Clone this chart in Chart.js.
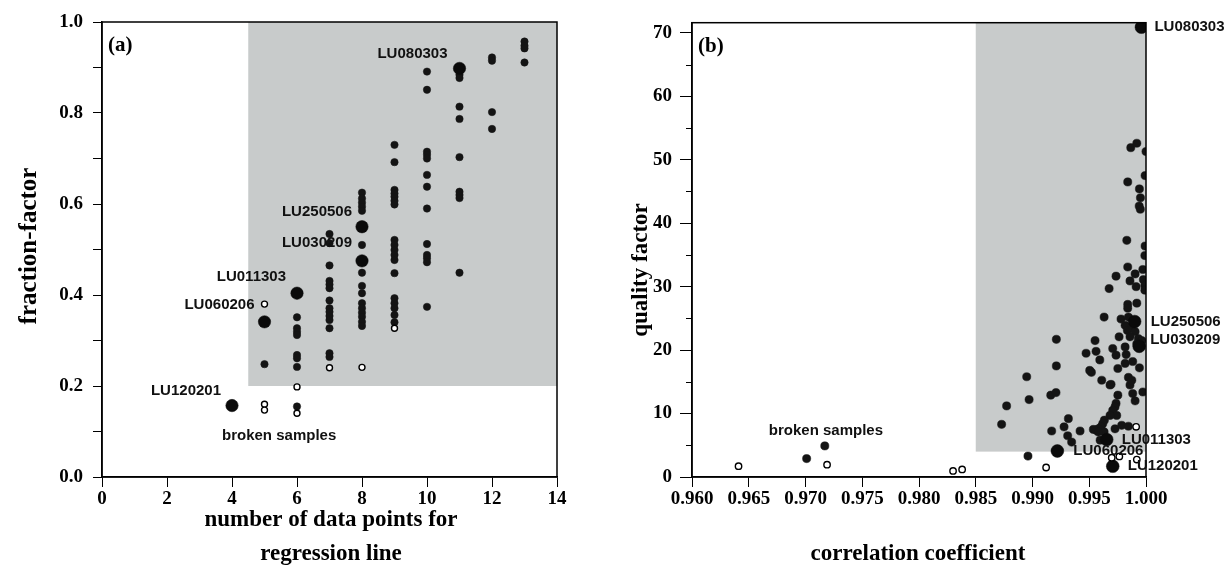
<!DOCTYPE html>
<html><head><meta charset="utf-8">
<script src="https://cdn.jsdelivr.net/npm/chart.js@4.4.1/dist/chart.umd.min.js"></script>
<style>
html,body{margin:0;padding:0;background:#fff;}
#wrap{position:relative;width:1230px;height:586px;overflow:hidden;}
canvas{position:absolute;top:0;}
#ca{left:0;} #cb{left:615px;}
</style></head><body>
<div id="wrap"><canvas id="ca" width="615" height="586"></canvas><canvas id="cb" width="615" height="586"></canvas></div>
<script>
// ---------- Panel (a): number of data points vs fraction-factor ----------
const aTicksX = [0, 2, 4, 6, 8, 10, 12, 14];
const aFilled = [
  [5,0.248],
  [6,0.351],[6,0.327],[6,0.319],[6,0.312],[6,0.268],[6,0.261],[6,0.242],[6,0.155],
  [7,0.534],[7,0.514],[7,0.465],[7,0.431],[7,0.423],[7,0.415],[7,0.388],[7,0.371],[7,0.363],[7,0.354],[7,0.345],[7,0.327],[7,0.272],[7,0.264],
  [8,0.625],[8,0.612],[8,0.603],[8,0.594],[8,0.585],[8,0.510],[8,0.449],[8,0.420],[8,0.404],[8,0.382],[8,0.371],[8,0.361],[8,0.352],[8,0.341],[8,0.332],
  [9,0.730],[9,0.692],[9,0.631],[9,0.623],[9,0.616],[9,0.607],[9,0.599],[9,0.521],[9,0.510],[9,0.499],[9,0.488],[9,0.477],[9,0.448],[9,0.393],[9,0.382],[9,0.371],[9,0.356],[9,0.340],
  [10,0.891],[10,0.851],[10,0.715],[10,0.708],[10,0.700],[10,0.664],[10,0.638],[10,0.590],[10,0.512],[10,0.488],[10,0.481],[10,0.472],[10,0.374],
  [11,0.884],[11,0.877],[11,0.814],[11,0.787],[11,0.703],[11,0.627],[11,0.620],[11,0.613],[11,0.449],
  [12,0.922],[12,0.915],[12,0.802],[12,0.765],
  [13,0.957],[13,0.948],[13,0.942],[13,0.911]
];
const aNamed = [[4,0.157],[5,0.341],[6,0.404],[8,0.475],[8,0.550],[11,0.898]];
const aNamedLabels = ['LU120201','LU060206','LU011303','LU030209','LU250506','LU080303'];
const aBroken = [[5,0.380],[5,0.160],[5,0.147],[6,0.198],[6,0.140],[7,0.240],[8,0.241],[9,0.327]];

// ---------- Panel (b): correlation coefficient vs quality factor ----------
const bFilled = [
  [0.9701,2.9],[0.9717,4.9],[0.9896,3.3],
  [0.98728,8.3],[0.98772,11.2],[0.98949,15.8],[0.9897,12.2],[0.99161,12.9],[0.99207,13.3],[0.9921,21.7],[0.9921,17.5],
  [0.99169,7.25],[0.99278,7.9],[0.99316,9.2],[0.9931,6.5],[0.99345,5.5],[0.99419,7.25],[0.9956,7.4],
  [0.99472,19.5],[0.99551,21.5],[0.9956,19.8],[0.99593,18.45],[0.99519,16.5],[0.9961,15.25],[0.99683,14.5],
  [0.99631,25.2],[0.99675,29.7],[0.99736,31.65],
  [0.99866,51.9],[0.99919,52.6],[1.0,51.3],[0.99992,47.5],[0.99839,46.5],[0.99942,45.4],[0.99951,44.0],[0.9994,42.7],[0.9995,42.2],
  [0.99831,37.3],[0.99992,36.4],[0.9999,34.9],[0.99839,33.1],[0.99972,32.7],[0.99904,32.0],[0.99859,30.9],[0.99977,31.1],
  [0.9999,30.2],[0.99913,30.0],[0.9999,29.45],[0.99839,27.2],[0.99919,27.4],[0.99839,26.6],[0.9978,24.9],[0.99845,25.2],
  [0.99904,24.7],[0.99816,23.9],[0.99875,23.7],[0.99836,23.1],[0.99904,22.9],[0.99859,22.1],[0.99933,21.8],[0.99919,21.0],
  [0.99963,21.5],[0.99763,22.1],[0.99707,20.25],[0.99816,20.5],[0.99825,19.3],[0.99736,19.2],[0.99504,16.8],[0.99752,17.1],
  [0.99816,17.9],[0.99883,18.2],[0.99942,17.2],[0.99845,15.7],[0.99692,14.6],[0.99859,14.5],[0.99875,15.25],[0.99972,13.4],
  [0.99883,13.15],[0.99752,12.9],[0.99904,12.0],[0.99736,11.6],[0.99727,11.05],[0.99707,10.5],[0.99742,9.7],[0.99683,9.7],
  [0.99633,8.95],[0.99619,8.4],[0.99604,7.9],[0.9958,7.6],[0.99536,7.5],[0.99727,7.6],[0.99786,8.15],[0.99845,8.0],
  [0.99631,7.1],[0.9958,7.1],[0.99596,5.8]
];
const bNamed = [[0.9996,70.9],[0.9990,24.5],[0.9994,20.6],[0.99654,5.9],[0.99219,4.1],[0.99707,1.7]];
const bNamedLabels = ['LU080303','LU250506','LU030209','LU011303','LU060206','LU120201'];
const bBroken = [[0.9641,1.7],[0.9719,1.95],[0.9830,0.95],[0.9838,1.2],[0.9912,1.5],[0.99913,7.9],[0.99698,3.05],[0.99765,3.25],[0.99919,2.75]];

// ---------- helpers ----------
const toXY = arr => arr.map(p => ({x: p[0], y: p[1]}));
const TICK_FONT = {family: '"Liberation Serif", "Times New Roman", serif', size: 19, weight: 'bold'};
const LBL_FONT = 'bold 15px "Liberation Sans", Arial, sans-serif';
const SHADE = '#c8cbcb';

function decor(cfg){
  return {
    id: 'decor',
    beforeDatasetsDraw(chart){
      const {ctx, scales:{x, y}} = chart;
      const x0 = x.getPixelForValue(cfg.shade[0]), x1 = x.getPixelForValue(cfg.shade[1]);
      const y0 = y.getPixelForValue(cfg.shade[2]), y1 = y.getPixelForValue(cfg.shade[3]);
      ctx.save(); ctx.fillStyle = SHADE; ctx.fillRect(x0, y1, x1 - x0, y0 - y1); ctx.restore();
    },
    afterDraw(chart){
      const {ctx, chartArea:a, scales:{x, y}} = chart;
      ctx.save();
      // frame
      ctx.strokeStyle = '#000'; ctx.lineWidth = 1.5;
      ctx.strokeRect(a.left, a.top, a.right - a.left, a.bottom - a.top);
      // minor ticks
      ctx.lineWidth = 1;
      (cfg.minorY || []).forEach(v => {
        const py = Math.round(y.getPixelForValue(v)) + 0.5;
        ctx.beginPath(); ctx.moveTo(a.left - 6, py); ctx.lineTo(a.left, py); ctx.stroke();
      });
      // point labels
      ctx.fillStyle = '#111'; ctx.font = LBL_FONT; ctx.textBaseline = 'middle';
      cfg.labels.forEach(l => {
        const px = x.getPixelForValue(l.x) + l.dx, py = y.getPixelForValue(l.y) + l.dy;
        ctx.textAlign = l.align; ctx.fillText(l.text, px, py);
      });
      // panel letter
      ctx.fillStyle = '#000';
      ctx.font = 'bold 21px "Liberation Serif", serif'; ctx.textAlign = 'left';
      ctx.fillText(cfg.letter, a.left + 6, a.top + 24);
      // axis titles
      ctx.font = 'bold 23px "Liberation Serif", "Times New Roman", serif'; ctx.textAlign = 'center';
      cfg.xTitle.forEach(t => ctx.fillText(t[0], t[1], t[2]));
      ctx.font = 'bold ' + cfg.yTitle[3] + 'px "Liberation Serif", "Times New Roman", serif';
      ctx.translate(cfg.yTitle[1], cfg.yTitle[2]); ctx.rotate(-Math.PI / 2);
      ctx.fillText(cfg.yTitle[0], 0, 0);
      ctx.restore();
    }
  };
}

function scatterSets(filled, named, broken, rS, rL, rO){
  return [
    {data: toXY(broken), pointRadius: rO, backgroundColor: '#fff', borderColor: '#000', borderWidth: 1.4},
    {data: toXY(named), pointRadius: rL, backgroundColor: '#0a0a0a', borderColor: '#0a0a0a', borderWidth: 0.5},
    {data: toXY(filled), pointRadius: rS, backgroundColor: '#141414', borderColor: '#141414', borderWidth: 0.5}
  ];
}

function axis(min, max, step, cb, isY, size, tickLen, pad){
  return {
    type: 'linear', min, max,
    ticks: {stepSize: step, callback: cb, color: '#000', font: TICK_FONT, padding: pad,
            autoSkip: false, maxRotation: 0, includeBounds: false},
    grid: {drawOnChartArea: false, drawTicks: true, tickLength: tickLen, color: '#000', lineWidth: 1},
    border: {display: true, color: '#000', width: 1.5},
    afterFit(s){ if (isY) s.width = size; else s.height = size; }
  };
}

const common = {
  responsive: false, animation: false, devicePixelRatio: 1, events: [],
  plugins: {legend: {display: false}, tooltip: {enabled: false}},
  elements: {point: {pointStyle: 'circle', hoverRadius: 0}}
};

// ---------- Chart (a) ----------
new Chart(document.getElementById('ca'), {
  type: 'scatter',
  data: {datasets: scatterSets(aFilled, aNamed, aBroken, 3.7, 6.2, 3.0)},
  options: Object.assign({}, common, {
    layout: {padding: {left: 0, right: 58, top: 22, bottom: 0}},
    scales: {
      x: axis(0, 14, 2, v => aTicksX.includes(v) ? String(v) : '', false, 109, 10, 1),
      y: axis(0, 1, 0.1, v => (Math.round(v * 10) % 2 === 0 ? v.toFixed(1) : ''), true, 102, 9, 10)
    }
  }),
  plugins: [decor({
    shade: [4.5, 14, 0.2, 1.0],
    letter: '(a)',
    labels: aNamed.map((p, i) => ({text: aNamedLabels[i], x: p[0], y: p[1], dx: [-11,-10,-11,-10,-10,-12][i], dy: [-15,-17,-16,-18,-15,-15][i], align: 'right'}))
      .concat([{text: 'broken samples', x: 5.45, y: 0.09, dx: 0, dy: 0, align: 'center'}]),
    xTitle: [['number of data points for', 331, 520], ['regression line', 331, 554]],
    yTitle: ['fraction-factor', 30, 246, 25]
  })]
});

// ---------- Chart (b) ----------
new Chart(document.getElementById('cb'), {
  type: 'scatter',
  data: {datasets: scatterSets(bFilled, bNamed, bBroken, 4.1, 6.4, 3.2)},
  options: Object.assign({}, common, {
    layout: {padding: {left: 0, right: 84, top: 22.7, bottom: 0}},
    scales: {
      x: axis(0.96, 1.0, 0.005, v => v.toFixed(3), false, 109, 10, 1),
      y: axis(0, 71.6, 10, v => String(Math.round(v)), true, 77, 12, 8)
    }
  }),
  plugins: [decor({
    shade: [0.985, 1.0, 4, 71.6],
    letter: '(b)',
    minorY: [5, 15, 25, 35, 45, 55, 65],
    labels: bNamed.map((p, i) => ({text: bNamedLabels[i], x: p[0], y: p[1], dx: [13,16,11,15,16,15][i], dy: [0,0,-6,0,0,0][i], align: 'left'}))
      .concat([{text: 'broken samples', x: 0.9718, y: 7.25, dx: 0, dy: 0, align: 'center'}]),
    xTitle: [['correlation coefficient', 303, 554]],
    yTitle: ['quality factor', 26, 270, 23]
  })]
});
</script>
</body></html>
